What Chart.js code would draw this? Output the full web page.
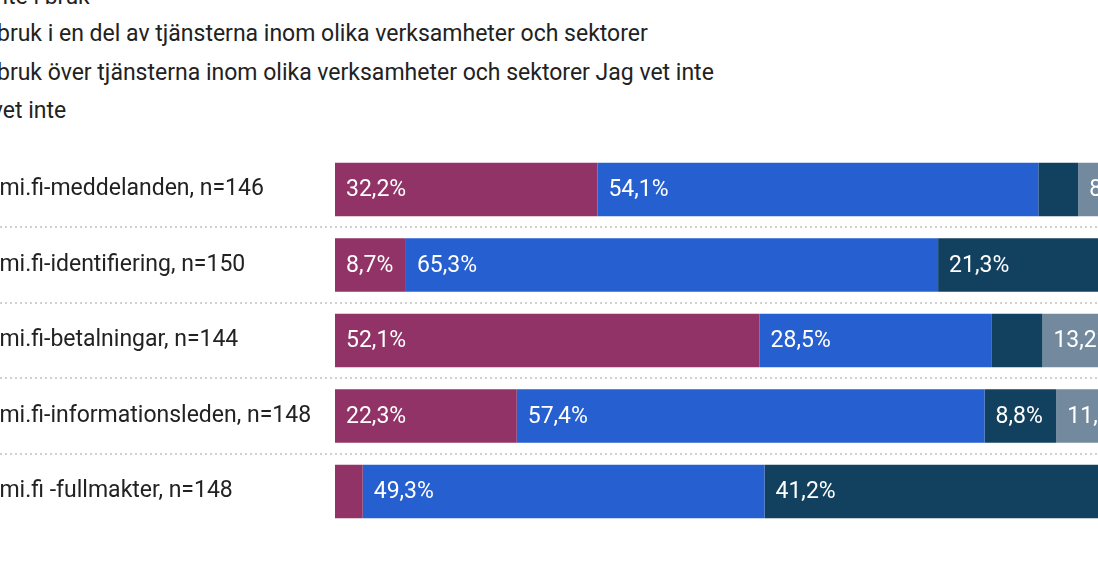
<!DOCTYPE html>
<html><head><meta charset="utf-8">
<script src="https://cdn.jsdelivr.net/npm/chart.js@4"></script>
<style>
body{margin:0;width:1098px;height:565px;overflow:hidden;background:#fff;font-family:Roboto,sans-serif;position:relative}
.lg{position:absolute;font-size:23px;color:#222;white-space:nowrap}
#wrap{position:absolute;left:-40px;top:138px;width:1190px;height:405px}
</style></head><body>
<div class="lg" style="left:-11px;top:-17px">Inte i bruk</div>
<div class="lg" style="left:-15px;top:20px">I bruk i en del av tjänsterna inom olika verksamheter och sektorer</div>
<div class="lg" style="left:-15px;top:59px">I bruk över tjänsterna inom olika verksamheter och sektorer Jag vet inte</div>
<div class="lg" style="left:-52px;top:97px">Jag vet inte</div>
<div id="wrap"><canvas id="c"></canvas></div>
<script>
var categories = ['Suomi.fi-meddelanden, n=146','Suomi.fi-identifiering, n=150','Suomi.fi-betalningar, n=144','Suomi.fi-informationsleden, n=148','Suomi.fi -fullmakter, n=148'];
var seriesNames = ['Inte i bruk','I bruk i en del av tjänsterna','I bruk över tjänsterna','Jag vet inte'];
var inteIBruk = [32.2, 8.7, 52.1, 22.3, 3.4];
var enDel = [54.1, 65.3, 28.5, 57.4, 49.3];
var over = [4.9, 21.3, 6.2, 8.8, 41.2];
var vetInte = [8.8, 4.7, 13.2, 11.5, 6.1];
var colors = ['#913366','#255fd0','#12405f','#738a9e'];

var barLabels = {
    id: 'barLabels',
    afterDatasetsDraw: function (chart) {
        var ctx = chart.ctx;
        ctx.save();
        ctx.font = '23px Roboto';
        ctx.fillStyle = '#fff';
        ctx.textBaseline = 'middle';
        chart.data.datasets.forEach(function (ds, i) {
            chart.getDatasetMeta(i).data.forEach(function (bar, j) {
                var w = bar.x - bar.base;
                if (w < 60) return;
                ctx.fillText(ds.data[j].toFixed(1).replace('.', ',') + '%', bar.base + 11, bar.y + 1);
            });
        });
        ctx.restore();
    },
    beforeDatasetsDraw: function (chart) {
        var ctx = chart.ctx, meta = chart.getDatasetMeta(0).data;
        ctx.save();
        ctx.strokeStyle = '#d0d0d0';
        ctx.lineWidth = 2;
        ctx.setLineDash([2, 3]);
        for (var j = 0; j < meta.length - 1; j++) {
            var y = Math.round((meta[j].y + meta[j + 1].y) / 2);
            ctx.beginPath();
            ctx.moveTo(0, y);
            ctx.lineTo(chart.width, y);
            ctx.stroke();
        }
        ctx.restore();
    }
};

var ctx = document.getElementById('c').getContext('2d');
new Chart(ctx, {
    type: 'bar',
    data: {
        labels: categories,
        datasets: [inteIBruk, enDel, over, vetInte].map(function (d, i) {
            return { label: seriesNames[i], data: d, backgroundColor: colors[i], barPercentage: 1, categoryPercentage: 0.71 };
        })
    },
    options: {
        indexAxis: 'y',
        animation: false,
        maintainAspectRatio: false,
        responsive: true,
        layout: { padding: 0 },
        plugins: { legend: { display: false }, tooltip: { enabled: false } },
        scales: {
            x: { stacked: true, min: 0, max: 100, display: false },
            y: {
                stacked: true,
                grid: { display: false },
                border: { display: false },
                afterFit: function (s) { s.width = 375; },
                ticks: { crossAlign: 'far', color: '#222', padding: 0, font: { family: 'Roboto', size: 23 } }
            }
        }
    },
    plugins: [barLabels]
});
</script>
</body></html>
